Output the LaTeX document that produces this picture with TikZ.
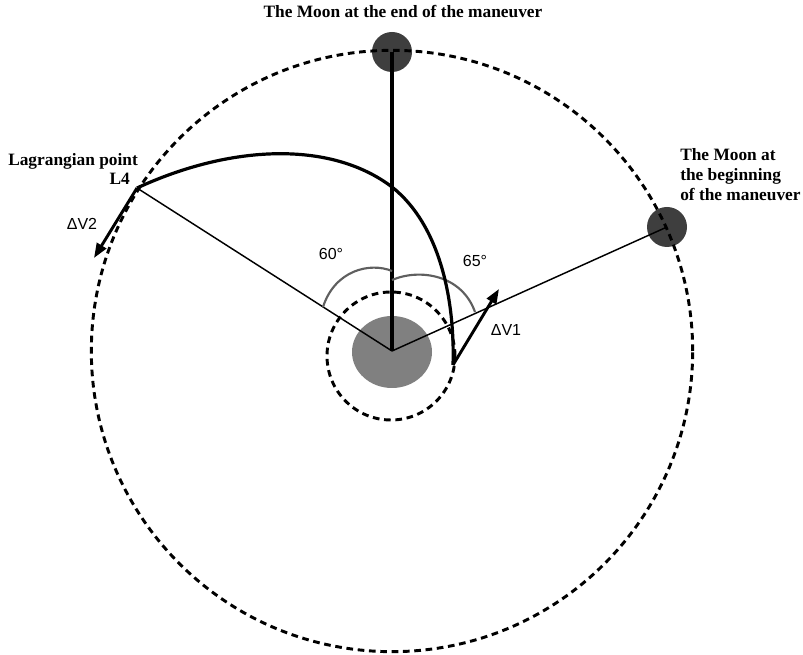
\documentclass[tikz,border=0pt]{standalone}
\usepackage{fontspec}
\setmainfont{Liberation Serif}
\newfontfamily\labsans{Liberation Sans}
\usetikzlibrary{arrows.meta,shapes.geometric}
\definecolor{earthgray}{RGB}{128,128,128}
\definecolor{moongray}{RGB}{62,62,62}
\definecolor{arcgray}{RGB}{95,95,95}
\begin{document}
\begin{tikzpicture}[x=0.75pt,y=-0.75pt,
  orbit/.style={line width=2.2pt, dash pattern=on 5pt off 3.5pt},
  thinray/.style={line width=1.1pt},
  thickray/.style={line width=2.4pt},
  traj/.style={line width=2.4pt},
  anglearc/.style={line width=1.6pt, draw=arcgray},
  dv/.style={line width=2.2pt, -{Triangle[length=11pt,width=8pt]}},
  moon/.style={circle, fill=moongray, minimum size=30pt, inner sep=0pt},
  earth/.style={ellipse, fill=earthgray, minimum width=60pt, minimum height=54pt, inner sep=0pt},
  serlab/.style={font=\bfseries\fontsize{13}{15}\selectfont, inner sep=0pt},
  sanslab/.style={font=\labsans\fontsize{12}{14}\selectfont, inner sep=0pt}]
\useasboundingbox (0,0) rectangle (803,655);
% bodies
\node[earth] (E) at (392,352) {};
\node[moon] (M1) at (392,52) {};
\node[moon] (M0) at (667,227) {};
\coordinate (C) at (392,351);
\coordinate (L4) at (137,188);
\coordinate (T1) at (453,365);
\coordinate (V1) at (499,289);
\coordinate (V2) at (94,258);
% orbits
\draw[orbit] (C) circle[radius=225.5pt];
\draw[orbit] (391,356) circle[radius=48pt];
% rays
\draw[thinray] (C) -- (L4);
\draw[thinray] (C) -- (M0.center);
\draw[thickray] (C) -- (M1.center);
% angle arcs
\draw[anglearc] (323,307) .. controls (335,270) and (370,262) .. (392,271);
\draw[anglearc] (392,280) .. controls (420,268) and (462,275) .. (475,312);
% trajectory
\draw[traj] (L4) .. controls (230,145) and (330,140) .. (392,187)
   .. controls (440,225) and (455,300) .. (T1);
% delta-v arrows
\draw[dv] (T1) -- (V1);
\draw[dv] (L4) -- (V2);
% labels
\node[serlab, anchor=base] (topl) at (403,18) {The Moon at the end of the maneuver};
\node[serlab, anchor=base west] (r1) at (680,161) {The Moon at};
\node[serlab, anchor=base west] (r2) at (680,181) {the beginning};
\node[serlab, anchor=base west] (r3) at (680,201) {of the maneuver};
\node[serlab, anchor=base west] (lagr) at (8,166) {Lagrangian point};
\node[serlab, anchor=base east] (l4lab) at (130,185) {L4};
\node[sanslab] (dv2) at (82,224) {ΔV2};
\node[sanslab] (a60) at (331,254) {60°};
\node[sanslab] (a65) at (475,261) {65°};
\node[sanslab] (dv1) at (506,330) {ΔV1};
\end{tikzpicture}
\end{document}
